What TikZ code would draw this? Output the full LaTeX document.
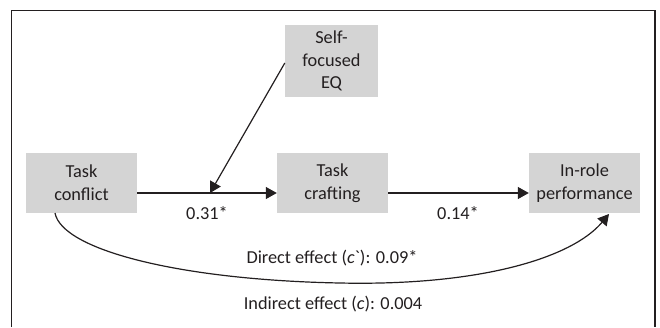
\documentclass[tikz,border=0pt]{standalone}
\usepackage{fontspec}
\setmainfont{Carlito}[Ligatures=TeXOff]
\usetikzlibrary{arrows.meta}
\definecolor{boxgray}{RGB}{212,212,212}
\definecolor{ink}{RGB}{35,31,32}
\tikzset{
  varbox/.style={fill=boxgray, draw=none, minimum width=111pt, minimum height=60pt, inner sep=0pt, align=center, text=ink, font=\fontsize{18.3}{22.8}\selectfont},
  lbl/.style={text=ink, font=\fontsize{18.3}{22.8}\selectfont, inner sep=0pt},
  conn/.style={draw=ink, line width=1.2pt, -{Triangle[length=11pt,width=12pt]}},
}
\begin{document}
\begin{tikzpicture}[x=1pt,y=-1pt]
\useasboundingbox (0,0) rectangle (660,327);
% frame
\draw[ink, line width=1.5pt] (11.5,327) -- (11.5,10.5) -- (655,10.5) -- (655,327);
% boxes
\node[varbox] (tc) at (81.5,183) {Task\\conflict};
\node[varbox] (tcr) at (332.5,183) {Task\\crafting};
\node[varbox] (irp) at (584.5,183) {In-role\\performance};
\node[varbox, minimum width=93pt, minimum height=72pt] (eq) at (331.5,61) {Self-\\focused\\EQ};
% main arrows
\coordinate (m1) at (210,193);
\draw[conn] (tc.east |- 0,193) -- (tcr.west |- 0,193);
\draw[conn] (tcr.east |- 0,193) -- (irp.west |- 0,193);
\draw[conn] (eq.west |- 0,63) -- (m1);
% direct effect curve
\coordinate (cs) at (55,213);
\coordinate (cm) at (340,283);
\coordinate (ce) at (609,214);
\draw[conn] (cs) .. controls (62,250) and (180,280) .. (cm) .. controls (480,286) and (572,258) .. (ce);
% labels
\node[lbl] (l1) at (207,213) {0.31*};
\node[lbl] (l2) at (458,213) {0.14*};
\node[lbl] (l3) at (332,258) {Direct effect (\textit{c}`): 0.09*};
\node[lbl] (l4) at (333,304) {Indirect effect (\textit{c}): 0.004};
\end{tikzpicture}
\end{document}
